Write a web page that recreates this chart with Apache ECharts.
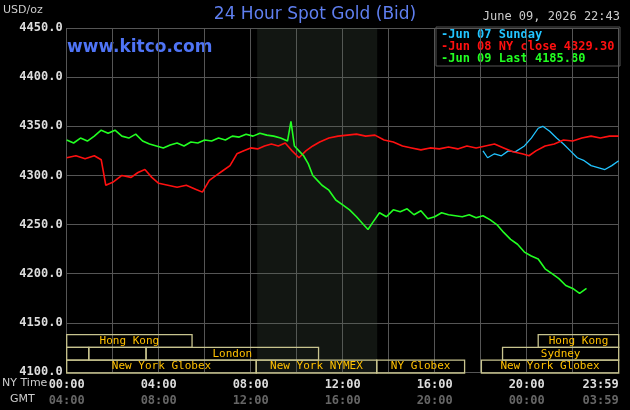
<!DOCTYPE html>
<html><head><meta charset="utf-8">
<script src="https://cdn.jsdelivr.net/npm/echarts@6/dist/echarts.min.js"></script>
<style>html,body{margin:0;background:#000}#c{width:630px;height:410px}</style></head>
<body><div id="c"></div>
<script>
const yTicks=[4100,4150,4200,4250,4300,4350,4400,4450];
const nyLabels={0:'00:00',4:'04:00',8:'08:00',12:'12:00',16:'16:00',20:'20:00',24:'23:59'};
const gmtLabels={0:'04:00',4:'08:00',8:'12:00',12:'16:00',16:'20:00',20:'00:00',24:'03:59'};
const jun09=[[0,4336],[0.3,4333],[0.6,4338],[0.9,4335],[1.2,4340],[1.5,4346],[1.8,4343],[2.1,4346],[2.4,4340],[2.7,4338],[3.0,4342],[3.3,4335],[3.6,4332],[3.9,4330],[4.2,4328],[4.5,4331],[4.8,4333],[5.1,4330],[5.4,4334],[5.7,4333],[6.0,4336],[6.3,4335],[6.6,4338],[6.9,4336],[7.2,4340],[7.5,4339],[7.8,4342],[8.1,4340],[8.4,4343],[8.7,4341],[9.0,4340],[9.3,4338],[9.6,4335],[9.75,4355],[9.9,4330],[10.1,4325],[10.3,4320],[10.5,4312],[10.7,4300],[10.9,4295],[11.1,4290],[11.4,4285],[11.7,4275],[12.0,4270],[12.3,4265],[12.6,4258],[12.9,4250],[13.1,4245],[13.3,4252],[13.6,4262],[13.9,4258],[14.2,4265],[14.5,4263],[14.8,4266],[15.1,4260],[15.4,4264],[15.7,4256],[16.0,4258],[16.3,4262],[16.6,4260],[16.9,4259],[17.2,4258],[17.5,4260],[17.8,4257],[18.1,4259],[18.4,4255],[18.7,4250],[19.0,4242],[19.3,4235],[19.6,4230],[19.9,4222],[20.2,4218],[20.5,4215],[20.8,4205],[21.1,4200],[21.4,4195],[21.7,4188],[22.0,4185],[22.3,4180],[22.6,4185]];
const jun08=[[0,4318],[0.4,4320],[0.8,4317],[1.2,4320],[1.5,4316],[1.7,4290],[2.0,4293],[2.4,4300],[2.8,4298],[3.1,4303],[3.4,4306],[3.7,4298],[4.0,4292],[4.4,4290],[4.8,4288],[5.2,4290],[5.6,4286],[5.9,4283],[6.2,4295],[6.5,4300],[6.8,4305],[7.1,4310],[7.4,4322],[7.7,4325],[8.0,4328],[8.3,4327],[8.6,4330],[8.9,4332],[9.2,4330],[9.5,4333],[9.8,4325],[10.1,4318],[10.4,4325],[10.7,4330],[11.0,4334],[11.4,4338],[11.8,4340],[12.2,4341],[12.6,4342],[13.0,4340],[13.4,4341],[13.8,4336],[14.2,4334],[14.6,4330],[15.0,4328],[15.4,4326],[15.8,4328],[16.2,4327],[16.6,4329],[17.0,4327],[17.4,4330],[17.8,4328],[18.2,4330],[18.6,4332],[19.0,4328],[19.4,4324],[19.8,4322],[20.1,4320],[20.4,4325],[20.8,4330],[21.2,4332],[21.6,4336],[22.0,4335],[22.4,4338],[22.8,4340],[23.2,4338],[23.6,4340],[24,4340]];
const jun07=[[18.1,4325],[18.3,4318],[18.6,4322],[18.9,4320],[19.2,4325],[19.5,4324],[19.9,4330],[20.2,4338],[20.5,4348],[20.7,4350],[21.0,4345],[21.3,4338],[21.6,4332],[21.9,4325],[22.2,4318],[22.5,4315],[22.8,4310],[23.1,4308],[23.4,4306],[23.7,4310],[24,4315]];
const sessions=[[0,5.45,0,'Hong Kong'],[20.5,24,0,'Hong Kong'],[0,0.96,1,''],[0.96,3.45,1,''],[3.45,10.95,1,'London'],[18.95,24,1,'Sydney'],[0,8.24,2,'New York Globex'],[8.24,13.48,2,'New York NYMEX'],[13.48,17.3,2,'NY Globex'],[18.03,24,2,'New York Globex']];
const rowBounds=[[4138,4125],[4125,4112],[4112,4099]];
const font='DejaVu Sans Mono';
const chart=echarts.init(document.getElementById('c'));
chart.setOption({
backgroundColor:'#000',animation:false,
grid:{left:66.7,right:11.3,top:28,bottom:38},
xAxis:{type:'value',min:0,max:24,interval:2,
 axisLine:{show:false},axisTick:{show:false},
 splitLine:{show:true,lineStyle:{color:'#555',width:1}},
 axisLabel:{margin:5,fontFamily:font,formatter:v=>nyLabels[v]!==undefined?'{a|'+nyLabels[v]+'}\n{b|'+gmtLabels[v]+'}':'',
  rich:{a:{color:'#ddd',fontSize:12,fontFamily:font,fontWeight:'bold',lineHeight:16},b:{color:'#666',fontSize:12,fontFamily:font,fontWeight:'bold',lineHeight:16}},
  showMaxLabel:true,alignMaxLabel:'right'}},
yAxis:{type:'value',min:4100,max:4450,interval:50,
 axisLine:{show:false},axisTick:{show:false},
 splitLine:{lineStyle:{color:'#555',width:1}},
 axisLabel:{color:'#ddd',fontFamily:font,fontSize:12,fontWeight:'bold',margin:4,formatter:v=>yTicks.includes(v)?v.toFixed(1):''}},
graphic:[
 {type:'text',left:'center',top:6,style:{text:'24 Hour Spot Gold (Bid)',fill:'#5f7ff0',font:'17px "DejaVu Sans"'}},
 {type:'text',left:3,top:5,style:{text:'USD/oz',fill:'#ccc',font:'11px "DejaVu Sans"'}},
 {type:'text',left:67,top:39,style:{text:'www.kitco.com',fill:'#4f74f5',font:'bold 17px "DejaVu Sans"'}},
 {type:'text',right:10,top:11,style:{text:'June 09, 2026 22:43',fill:'#ccc',font:'12px '+font}},
 {type:'rect',shape:{x:436,y:27,width:184,height:39},style:{fill:'#000',stroke:'#555',lineWidth:1}},
 {type:'text',left:441,top:29,style:{text:'-Jun 07 Sunday',fill:'#22c4ff',font:'bold 12px '+font}},
 {type:'text',left:441,top:41,style:{text:'-Jun 08 NY close 4329.30',fill:'#ff1010',font:'bold 12px '+font}},
 {type:'text',left:441,top:53,style:{text:'-Jun 09 Last 4185.80',fill:'#22ff22',font:'bold 12px '+font}},
 {type:'text',left:2,top:378,style:{text:'NY Time',fill:'#ccc',font:'11px "DejaVu Sans"'}},
 {type:'text',left:10,top:394,style:{text:'GMT',fill:'#ccc',font:'11px "DejaVu Sans"'}}
],
series:[
 {type:'line',data:[],markArea:{silent:true,itemStyle:{color:'rgba(80,100,80,0.22)'},data:[[{xAxis:8.28},{xAxis:13.5}]]},z:1},
 {type:'custom',z:3,data:sessions,renderItem:(p,api)=>{
   const s=sessions[p.dataIndex];const b=rowBounds[s[2]];
   const a=api.coord([s[0],b[0]]),c=api.coord([s[1],b[1]]);
   return {type:'group',children:[
    {type:'rect',shape:{x:a[0],y:a[1],width:c[0]-a[0],height:c[1]-a[1]},style:{fill:'rgba(0,0,0,0)',stroke:'#c8c48e',lineWidth:1.3}},
    {type:'text',style:{text:s[3],x:(a[0]+c[0])/2,y:(a[1]+c[1])/2,align:'center',verticalAlign:'middle',fill:'#ffc000',font:'11px '+font}}]};
 }},
 {type:'line',data:jun07,showSymbol:false,lineStyle:{color:'#22c4ff',width:1.3},z:4},
 {type:'line',data:jun08,showSymbol:false,lineStyle:{color:'#ff1010',width:1.6},z:5},
 {type:'line',data:jun09,showSymbol:false,lineStyle:{color:'#22ff22',width:1.6},z:6}
]});
</script></body></html>
